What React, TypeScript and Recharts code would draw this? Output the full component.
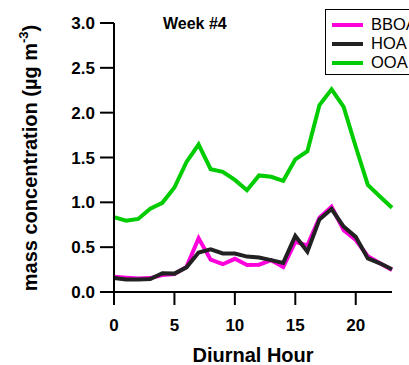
import React from 'react';
import { LineChart, Line, XAxis, YAxis, Label } from 'recharts';

const hours = [0, 1, 2, 3, 4, 5, 6, 7, 8, 9, 10, 11, 12, 13, 14, 15, 16, 17, 18, 19, 20, 21, 22, 23];

const bboa = [0.17, 0.16, 0.15, 0.155, 0.19, 0.2, 0.28, 0.6, 0.36, 0.31, 0.37, 0.3, 0.305, 0.355, 0.28, 0.56, 0.52, 0.83, 0.95, 0.69, 0.58, 0.4, 0.32, 0.245];
const hoa = [0.155, 0.14, 0.14, 0.145, 0.21, 0.205, 0.275, 0.44, 0.475, 0.43, 0.43, 0.395, 0.385, 0.355, 0.325, 0.625, 0.45, 0.81, 0.925, 0.73, 0.615, 0.375, 0.32, 0.253];
const ooa = [0.835, 0.795, 0.815, 0.93, 0.995, 1.165, 1.45, 1.645, 1.37, 1.34, 1.25, 1.135, 1.3, 1.285, 1.24, 1.48, 1.57, 2.085, 2.26, 2.065, 1.62, 1.195, 1.065, 0.94];

const xTicks = [0, 5, 10, 15, 20];
const yTicks = [0, 0.5, 1.0, 1.5, 2.0, 2.5, 3.0];

const series = [
  { key: 'BBOA', color: '#ff00dd', values: bboa },
  { key: 'HOA', color: '#222222', values: hoa },
  { key: 'OOA', color: '#00cc00', values: ooa },
];

const data = hours.map((h, i) => {
  const row: { [key: string]: number } = { hour: h };
  series.forEach((s) => {
    row[s.key] = s.values[i];
  });
  return row;
});

const font = 'Arial, "Liberation Sans", sans-serif';

// legend box sits in the top right corner, cut off by the edge like the original
const LegendBox = () => (
  <div
    style={{
      position: 'absolute',
      left: 325,
      top: 9,
      border: '1.5px solid #000',
      background: '#fff',
      width: 100,
      height: 66,
      boxSizing: 'border-box',
      paddingTop: 5,
      fontFamily: font,
      fontSize: 16.5,
      color: '#000',
    }}
  >
    {series.map((s) => (
      <div key={s.key} style={{ display: 'flex', alignItems: 'center', height: 19 }}>
        <div style={{ width: 31, height: 4, background: s.color, marginLeft: 6, marginRight: 8 }} />
        <span style={{ lineHeight: '19px' }}>{s.key}</span>
      </div>
    ))}
  </div>
);

const YTitle = () => (
  <text
    transform="translate(37, 158) rotate(-90)"
    textAnchor="middle"
    fontFamily={font}
    fontSize={20}
    fontWeight="bold"
    fill="#000"
  >
    mass concentration (µg m
    <tspan fontSize={13} dy={-9}>-3</tspan>
    <tspan dy={9}>)</tspan>
  </text>
);

export default function App() {
  return (
    <div style={{ position: 'absolute', left: 0, top: 0, width: 409, height: 365, background: '#fff', overflow: 'hidden' }}>
      <LineChart
        width={409}
        height={365}
        data={data}
        margin={{ top: 23, right: 17, left: 0, bottom: 0 }}
      >
        <XAxis
          dataKey="hour"
          type="number"
          domain={[0, 23]}
          ticks={xTicks}
          height={73}
          tickSize={13}
          tickMargin={14}
          axisLine={{ stroke: '#000', strokeWidth: 2 }}
          tickLine={{ stroke: '#000', strokeWidth: 2 }}
          tick={{ fill: '#000', fontSize: 17, fontWeight: 'bold', fontFamily: font }}
        >
          <Label
            value="Diurnal Hour"
            position="insideBottom"
            offset={3}
            style={{ fill: '#000', fontSize: 20, fontWeight: 'bold', fontFamily: font }}
          />
        </XAxis>
        <YAxis
          type="number"
          domain={[0, 3]}
          ticks={yTicks}
          width={114}
          tickSize={14}
          tickMargin={5}
          tickFormatter={(v: number) => v.toFixed(1)}
          axisLine={{ stroke: '#000', strokeWidth: 2 }}
          tickLine={{ stroke: '#000', strokeWidth: 2 }}
          tick={{ fill: '#000', fontSize: 17, fontWeight: 'bold', fontFamily: font }}
        >
          <Label content={() => <YTitle />} />
        </YAxis>
        {series.map((s) => (
          <Line
            key={s.key}
            dataKey={s.key}
            stroke={s.color}
            strokeWidth={4}
            dot={false}
            isAnimationActive={false}
          />
        ))}
        <text x={163} y={29} fontFamily={font} fontSize={16} fontWeight="bold" fill="#000">
          Week #4
        </text>
      </LineChart>
      <LegendBox />
    </div>
  );
}
